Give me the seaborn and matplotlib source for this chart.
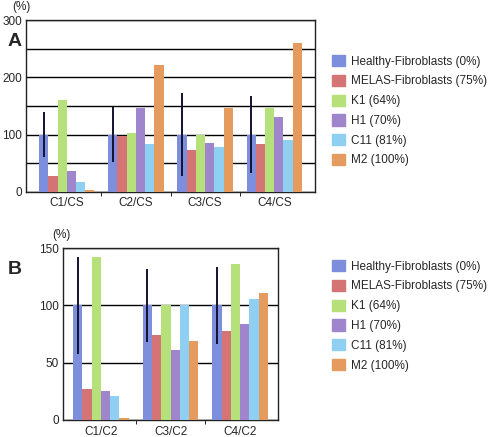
import numpy as np
import pandas as pd
import matplotlib
matplotlib.use("Agg")
import matplotlib.pyplot as plt
import seaborn as sns

sns.set_style("white")
plt.rcParams['font.family'] = ['Liberation Sans', 'DejaVu Sans']

groups = ["Healthy-Fibroblasts (0%)", "MELAS-Fibroblasts (75%)", "K1 (64%)",
          "H1 (70%)", "C11 (81%)", "M2 (100%)"]
colors = ["#7d8fdc", "#d47474", "#b5e07a", "#9f86cc", "#8fd0f2", "#e59a5e"]

# panel A: ratio to CS
cats_a = ["C1/CS", "C2/CS", "C3/CS", "C4/CS"]
vals_a = {
    "Healthy-Fibroblasts (0%)": [100, 100, 100, 100],
    "MELAS-Fibroblasts (75%)": [27, 97, 73, 84],
    "K1 (64%)": [161, 102, 100, 146],
    "H1 (70%)": [37, 147, 86, 130],
    "C11 (81%)": [17, 83, 79, 91],
    "M2 (100%)": [3, 222, 146, 260],
}
err_a = [39, 48, 73, 67]  # healthy fibroblasts only

# panel B: ratio to C2
cats_b = ["C1/C2", "C3/C2", "C4/C2"]
vals_b = {
    "Healthy-Fibroblasts (0%)": [100, 100, 100],
    "MELAS-Fibroblasts (75%)": [27, 74, 78],
    "K1 (64%)": [142, 100, 136],
    "H1 (70%)": [25, 61, 84],
    "C11 (81%)": [21, 100, 106],
    "M2 (100%)": [2, 69, 111],
}
err_b = [42, 32, 34]


def to_long(cats, vals):
    rows = []
    for g in groups:
        for c, v in zip(cats, vals[g]):
            rows.append({"cat": c, "group": g, "value": v})
    return pd.DataFrame(rows)


def draw_panel(ax, cats, vals, errs, ymax, ystep, tickstep):
    df = to_long(cats, vals)
    sns.barplot(data=df, x="cat", y="value", hue="group", hue_order=groups,
                palette=colors, width=0.8, errorbar=None, ax=ax,
                edgecolor="none", saturation=1, zorder=3)
    # error bars on the healthy bars
    healthy = ax.containers[0]
    for patch, e in zip(healthy, errs):
        xc = patch.get_x() + patch.get_width() / 2
        ax.errorbar(xc, patch.get_height(), yerr=e, fmt="none",
                    ecolor="#111133", elinewidth=1.4, capsize=0, zorder=4)
    ax.set_ylim(0, ymax)
    ax.set_yticks(np.arange(0, ymax + 1, tickstep))
    ax.set_yticks(np.arange(0, ymax + 1, ystep), minor=True)
    ax.yaxis.grid(True, which="both", color="black", linewidth=1.0, zorder=0)
    ax.set_axisbelow(True)
    ax.set_xlabel("")
    ax.set_ylabel("")
    ax.set_xticks(np.arange(len(cats) - 1) + 0.5, minor=True)
    ax.tick_params(axis="x", which="major", length=0, labelsize=8.5, pad=4)
    ax.tick_params(axis="x", which="minor", length=3, direction="out",
                   bottom=True, color="black")
    ax.tick_params(axis="y", which="both", length=0, labelsize=8.5, pad=3)
    for s in ax.spines.values():
        s.set_color("#222222")
        s.set_linewidth(1.0)
    ax.get_legend().remove()


fig = plt.figure(figsize=(4.9, 4.37), dpi=100)
ax_a = fig.add_axes([0.053, 0.561, 0.590, 0.393])
ax_b = fig.add_axes([0.129, 0.039, 0.438, 0.393])

draw_panel(ax_a, cats_a, vals_a, err_a, 300, 50, 100)
draw_panel(ax_b, cats_b, vals_b, err_b, 150, 50, 50)

fig.text(12 / 490, 1 - 7 / 437, "(%)", fontsize=8.5, va="center")
fig.text(8 / 490, 1 - 41 / 437, "A", fontsize=14, fontweight="bold", va="center")
fig.text(52 / 490, 1 - 235 / 437, "(%)", fontsize=8.5, va="center")
fig.text(8 / 490, 1 - 270 / 437, "B", fontsize=14, fontweight="bold", va="center")

for ytop in [55, 260]:
    hs = [plt.Rectangle((0, 0), 1, 1, color=c) for c in colors]
    fig.legend(hs, groups, loc="upper left",
               bbox_to_anchor=(332 / 490, 1 - ytop / 437),
               frameon=False, fontsize=8.5, handlelength=1.1,
               handleheight=1.1, handletextpad=0.55, labelspacing=0.6,
               borderpad=0, borderaxespad=0)

fig.savefig("out.png", dpi=100)
